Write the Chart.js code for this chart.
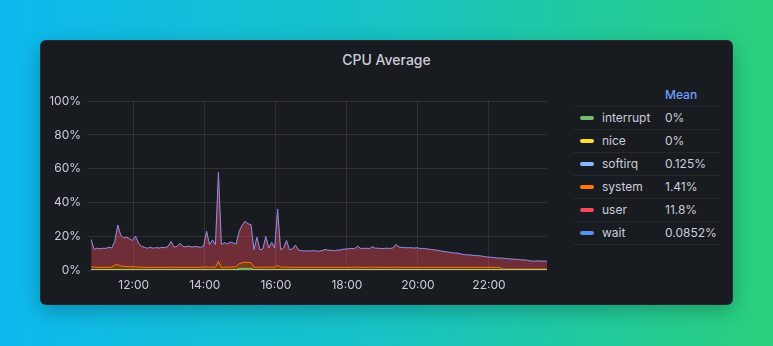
<!DOCTYPE html>
<html>
<head>
<meta charset="utf-8">
<script src="https://cdn.jsdelivr.net/npm/chart.js@4/dist/chart.umd.min.js"></script>
<style>
  html, body { margin: 0; padding: 0; }
  body {
    width: 773px; height: 346px; overflow: hidden; position: relative;
    background: linear-gradient(90deg, #0db8ee 0%, #17c3c4 50%, #2bd07c 100%);
    font-family: Inter, "Noto Sans", sans-serif;
  }
  .panel {
    position: absolute; left: 40px; top: 40px; width: 693px; height: 265px;
    background: #181b1f; border-radius: 6px; box-sizing: border-box;
    border: 1px solid rgba(204, 204, 220, 0.08);
    box-shadow: 0 6px 20px rgba(0, 0, 0, 0.25);
  }
  .title {
    position: absolute; left: 0; right: 0; top: 10px; text-align: center;
    color: #ccccdc; font-size: 14px; font-weight: 500;
  }
  #cpuChart { position: absolute; left: 40px; top: 88px; }
  .legend { position: absolute; left: 573px; top: 84px; width: 147px; color: #ccccdc; font-size: 12px; }
  .legend .row { position: relative; height: 22px; border-bottom: 1px solid rgba(204, 204, 220, 0.08); }
  .legend .row span { position: absolute; top: 0; line-height: 22px; white-space: nowrap; }
  .legend .sw { left: 7px; top: 9px !important; width: 14px; height: 4px; border-radius: 2px; }
  .legend .name { left: 29px; }
  .legend .val { left: 92px; }
  .legend .head { left: 92px; color: #6e9fff; font-weight: 500; }
</style>
</head>
<body>
<div class="panel"><div class="title">CPU Average</div></div>
<canvas id="cpuChart" width="512" height="207"></canvas>
<div class="legend" id="legend"></div>

<script>
// samples every 5 minutes, starting 10:48 (minutes after midnight)
const startMinute = 648;
const stepMinutes = 5;
const hourTicks = [720, 840, 960, 1080, 1200, 1320];
const percentTicks = [0, 20, 40, 60, 80, 100];

const seriesNames = ['interrupt', 'nice', 'softirq', 'system', 'user', 'wait'];
const seriesColors = ['#73bf69', '#fade2a', '#8ab8ff', '#ff780a', '#f2495c', '#5794f2'];
const seriesMeans = ['0%', '0%', '0.125%', '1.41%', '11.8%', '0.0852%'];

const interrupt = [
  0, 0, 0, 0, 0, 0, 0, 0, 0, 0,
  0, 0, 0, 0, 0, 0, 0, 0, 0, 0,
  0, 0, 0, 0, 0, 0, 0, 0, 0, 0,
  0, 0, 0, 0, 0, 0, 0, 0, 0, 0,
  0, 0, 0, 0, 0, 0, 0, 0, 0, 0,
  0.8, 0.8, 0.8, 0.8, 0.8, 0, 0, 0, 0, 0,
  0, 0, 0, 0, 0, 0, 0, 0, 0, 0,
  0, 0, 0, 0, 0, 0, 0, 0, 0, 0,
  0, 0, 0, 0, 0, 0, 0, 0, 0, 0,
  0, 0, 0, 0, 0, 0, 0, 0, 0, 0,
  0, 0, 0, 0, 0, 0, 0, 0, 0, 0,
  0, 0, 0, 0, 0, 0, 0, 0, 0, 0,
  0, 0, 0, 0, 0, 0, 0, 0, 0, 0,
  0, 0, 0, 0, 0, 0, 0, 0, 0, 0,
  0, 0, 0, 0, 0, 0, 0, 0, 0, 0,
  0, 0, 0, 0, 0
];
const nice = [
  0, 0, 0, 0, 0, 0, 0, 0, 0, 0,
  0, 0, 0, 0, 0, 0, 0, 0, 0, 0,
  0, 0, 0, 0, 0, 0, 0, 0, 0, 0,
  0, 0, 0, 0, 0, 0, 0, 0, 0, 0,
  0, 0, 0, 0, 0, 0, 0, 0, 0, 0,
  0, 0, 0, 0, 0, 0, 0, 0, 0, 0,
  0, 0, 0, 0, 0, 0, 0, 0, 0, 0,
  0, 0, 0, 0, 0, 0, 0, 0, 0, 0,
  0, 0, 0, 0, 0, 0, 0, 0, 0, 0,
  0, 0, 0, 0, 0, 0, 0, 0, 0, 0,
  0, 0, 0, 0, 0, 0, 0, 0, 0, 0,
  0, 0, 0, 0, 0, 0, 0, 0, 0, 0,
  0, 0, 0, 0, 0, 0, 0, 0, 0, 0,
  0, 0, 0, 0, 0, 0, 0, 0, 0, 0,
  0, 0, 0, 0, 0, 0, 0, 0, 0, 0,
  0, 0, 0, 0, 0
];
const softirq = [
  0.13, 0.12, 0.12, 0.11, 0.12, 0.13, 0.12, 0.12, 0.15, 0.16,
  0.14, 0.13, 0.13, 0.12, 0.12, 0.13, 0.12, 0.12, 0.11, 0.12,
  0.12, 0.12, 0.13, 0.12, 0.11, 0.12, 0.12, 0.13, 0.12, 0.12,
  0.13, 0.12, 0.12, 0.12, 0.11, 0.12, 0.12, 0.12, 0.13, 0.15,
  0.12, 0.13, 0.12, 0.20, 0.12, 0.13, 0.12, 0.13, 0.13, 0.12,
  0.16, 0.17, 0.18, 0.17, 0.17, 0.12, 0.14, 0.12, 0.12, 0.14,
  0.12, 0.13, 0.12, 0.18, 0.12, 0.12, 0.13, 0.12, 0.12, 0.12,
  0.12, 0.12, 0.11, 0.12, 0.12, 0.12, 0.11, 0.12, 0.12, 0.12,
  0.12, 0.12, 0.12, 0.12, 0.12, 0.12, 0.12, 0.13, 0.12, 0.12,
  0.13, 0.12, 0.12, 0.12, 0.12, 0.13, 0.12, 0.12, 0.12, 0.12,
  0.12, 0.12, 0.12, 0.13, 0.12, 0.12, 0.12, 0.12, 0.12, 0.12,
  0.12, 0.12, 0.12, 0.12, 0.12, 0.12, 0.12, 0.12, 0.12, 0.12,
  0.12, 0.12, 0.12, 0.12, 0.12, 0.12, 0.12, 0.12, 0.12, 0.12,
  0.12, 0.12, 0.12, 0.12, 0.12, 0.12, 0.12, 0.12, 0.12, 0.12,
  0.12, 0.12, 0.12, 0.12, 0.12, 0.12, 0.12, 0.12, 0.12, 0.12,
  0.12, 0.12, 0.12, 0.12, 0.12
];
const system = [
  1.8, 1.6, 1.5, 1.5, 1.4, 1.5, 1.5, 1.6, 2.8, 3.0,
  2.3, 2.0, 2.0, 1.8, 1.8, 1.8, 1.6, 1.5, 1.5, 1.4,
  1.5, 1.4, 1.5, 1.5, 1.4, 1.5, 1.5, 1.6, 1.5, 1.5,
  1.5, 1.5, 1.4, 1.5, 1.5, 1.5, 1.4, 1.5, 1.6, 1.7,
  1.5, 1.6, 1.5, 5.0, 1.5, 1.5, 1.6, 1.6, 1.7, 1.8,
  2.8, 3.3, 3.6, 3.5, 3.3, 1.5, 1.6, 1.5, 1.5, 1.6,
  1.5, 1.6, 1.5, 2.6, 1.5, 1.5, 1.6, 1.5, 1.5, 1.5,
  1.4, 1.5, 1.5, 1.4, 1.5, 1.5, 1.4, 1.5, 1.5, 1.4,
  1.5, 1.5, 1.4, 1.5, 1.5, 1.5, 1.4, 1.5, 1.5, 1.6,
  1.5, 1.5, 1.5, 1.4, 1.5, 1.5, 1.6, 1.5, 1.5, 1.5,
  1.4, 1.5, 1.6, 1.5, 1.5, 1.5, 1.4, 1.5, 1.5, 1.5,
  1.5, 1.4, 1.5, 1.5, 1.5, 1.4, 1.5, 1.5, 1.5, 1.4,
  1.5, 1.5, 1.4, 1.5, 1.5, 1.5, 1.4, 1.5, 1.5, 1.5,
  1.4, 1.5, 1.5, 1.5, 1.4, 1.5, 1.5, 1.4, 1.5, 0.4,
  0.4, 0.4, 0.4, 0.4, 0.4, 0.4, 0.4, 0.4, 0.4, 0.4,
  0.4, 0.4, 0.4, 0.4, 0.4
];
const user = [
  16.0, 10.3, 11.3, 10.8, 11.3, 11.1, 11.8, 11.3, 14.0, 23.4,
  18.0, 16.8, 17.3, 16.5, 15.5, 18.0, 14.2, 12.3, 11.8, 11.3,
  11.8, 11.3, 11.6, 11.3, 11.8, 11.5, 12.3, 15.1, 11.8, 12.3,
  14.1, 12.3, 12.1, 12.5, 11.8, 12.3, 12.1, 11.8, 12.3, 21.0,
  13.3, 16.0, 13.3, 52.4, 13.3, 14.5, 13.7, 14.7, 14.1, 13.5,
  19.0, 22.1, 24.2, 22.8, 22.5, 10.3, 17.6, 10.3, 10.8, 18.0,
  11.3, 14.5, 11.3, 33.1, 10.3, 11.3, 15.7, 10.3, 10.8, 13.1,
  10.3, 9.8, 9.6, 9.8, 9.5, 9.8, 9.6, 9.5, 9.8, 10.6,
  10.0, 10.1, 9.8, 10.1, 10.1, 10.6, 10.8, 10.9, 11.1, 10.8,
  12.5, 11.1, 11.1, 11.3, 10.9, 12.1, 11.1, 11.2, 11.0, 11.1,
  11.3, 11.1, 11.3, 13.5, 11.9, 11.7, 11.6, 11.5, 11.5, 11.3,
  11.5, 11.2, 11.1, 10.9, 10.7, 10.5, 10.2, 10.0, 9.7, 9.3,
  9.1, 8.8, 8.5, 8.4, 8.2, 7.8, 7.5, 7.3, 7.2, 7.0,
  6.9, 6.8, 6.5, 6.3, 6.0, 5.9, 5.7, 5.5, 5.4, 6.4,
  6.2, 6.0, 5.9, 5.8, 5.7, 5.5, 5.4, 5.3, 4.9, 4.7,
  4.7, 4.8, 4.7, 4.7, 4.7
];
const wait = [
  0.09, 0.08, 0.08, 0.09, 0.08, 0.08, 0.08, 0.09, 0.10, 0.12,
  0.10, 0.09, 0.09, 0.09, 0.08, 0.09, 0.08, 0.08, 0.08, 0.08,
  0.08, 0.08, 0.09, 0.08, 0.08, 0.08, 0.09, 0.09, 0.08, 0.08,
  0.09, 0.08, 0.08, 0.08, 0.08, 0.08, 0.08, 0.08, 0.09, 0.10,
  0.08, 0.09, 0.08, 0.15, 0.08, 0.09, 0.08, 0.09, 0.09, 0.08,
  0.10, 0.11, 0.12, 0.11, 0.11, 0.08, 0.09, 0.08, 0.08, 0.09,
  0.08, 0.09, 0.08, 0.12, 0.08, 0.08, 0.09, 0.08, 0.08, 0.08,
  0.08, 0.08, 0.08, 0.08, 0.08, 0.08, 0.08, 0.08, 0.08, 0.08,
  0.08, 0.08, 0.08, 0.08, 0.08, 0.08, 0.08, 0.08, 0.08, 0.08,
  0.09, 0.08, 0.08, 0.08, 0.08, 0.09, 0.08, 0.08, 0.08, 0.08,
  0.08, 0.08, 0.08, 0.09, 0.08, 0.08, 0.08, 0.08, 0.08, 0.08,
  0.08, 0.08, 0.08, 0.08, 0.08, 0.08, 0.08, 0.08, 0.08, 0.08,
  0.08, 0.08, 0.08, 0.08, 0.08, 0.08, 0.08, 0.08, 0.08, 0.08,
  0.08, 0.08, 0.08, 0.08, 0.08, 0.08, 0.08, 0.08, 0.08, 0.08,
  0.08, 0.08, 0.08, 0.08, 0.08, 0.08, 0.08, 0.08, 0.08, 0.08,
  0.08, 0.08, 0.08, 0.08, 0.08
];

const sampleTimes = user.map((_, i) => startMinute + i * stepMinutes);

function hexToRgba(hex, a) {
  const n = parseInt(hex.slice(1), 16);
  return `rgba(${(n >> 16) & 255}, ${(n >> 8) & 255}, ${n & 255}, ${a})`;
}

function makeDataset(name, values, color, fill, lineColor) {
  return {
    label: name,
    data: values.map((v, i) => ({ x: sampleTimes[i], y: v })),
    borderColor: lineColor || color,
    backgroundColor: hexToRgba(color, 0.4),
    borderWidth: 1,
    pointRadius: 0,
    tension: 0,
    fill: fill
  };
}

// stack bottom to top; nice first so its line sits on top of interrupt's at 0.
// user's line is drawn very faintly over wait's so the top edge reads lavender
const datasets = [
  makeDataset('nice', nice, seriesColors[1], 'origin'),
  makeDataset('interrupt', interrupt, seriesColors[0], '-1'),
  makeDataset('softirq', softirq, seriesColors[2], '-1'),
  makeDataset('system', system, seriesColors[3], '-1'),
  makeDataset('user', user, seriesColors[4], '-1', hexToRgba(seriesColors[4], 0.12)),
  makeDataset('wait', wait, seriesColors[5], '-1', '#8c96f2')
];

const gridColor = 'rgba(204, 204, 220, 0.12)';
const tickFont = { family: 'Inter', size: 12 };

new Chart(document.getElementById('cpuChart'), {
  type: 'line',
  data: { datasets },
  options: {
    responsive: false,
    animation: false,
    layout: { padding: { left: 0, right: 5, top: 11, bottom: 0 } },
    plugins: {
      legend: { display: false },
      tooltip: { enabled: false },
      filler: { drawTime: 'beforeDatasetsDraw' }
    },
    scales: {
      x: {
        type: 'linear',
        min: 641,
        max: 1418,
        afterBuildTicks: (scale) => { scale.ticks = hourTicks.map(v => ({ value: v })); },
        afterFit: (scale) => { scale.height = 25; },
        ticks: {
          color: '#ccccdc',
          font: tickFont,
          padding: 8,
          maxRotation: 0,
          callback: (v) => String(Math.floor(v / 60)).padStart(2, '0') + ':00'
        },
        grid: { color: gridColor, drawTicks: false },
        border: { display: false }
      },
      y: {
        stacked: true,
        min: 0,
        max: 100,
        afterBuildTicks: (scale) => { scale.ticks = percentTicks.map(v => ({ value: v })); },
        afterFit: (scale) => { scale.width = 47; },
        ticks: {
          color: '#ccccdc',
          font: tickFont,
          padding: 6,
          callback: (v) => v + '%'
        },
        grid: { color: gridColor, drawTicks: false },
        border: { display: false }
      }
    }
  }
});

// legend table with the mean column
const legendEl = document.getElementById('legend');
legendEl.innerHTML = '<div class="row"><span class="head">Mean</span></div>' +
  seriesNames.map((name, i) =>
    `<div class="row"><span class="sw" style="background:${seriesColors[i]}"></span>` +
    `<span class="name">${name}</span><span class="val">${seriesMeans[i]}</span></div>`
  ).join('');
</script>
</body>
</html>
